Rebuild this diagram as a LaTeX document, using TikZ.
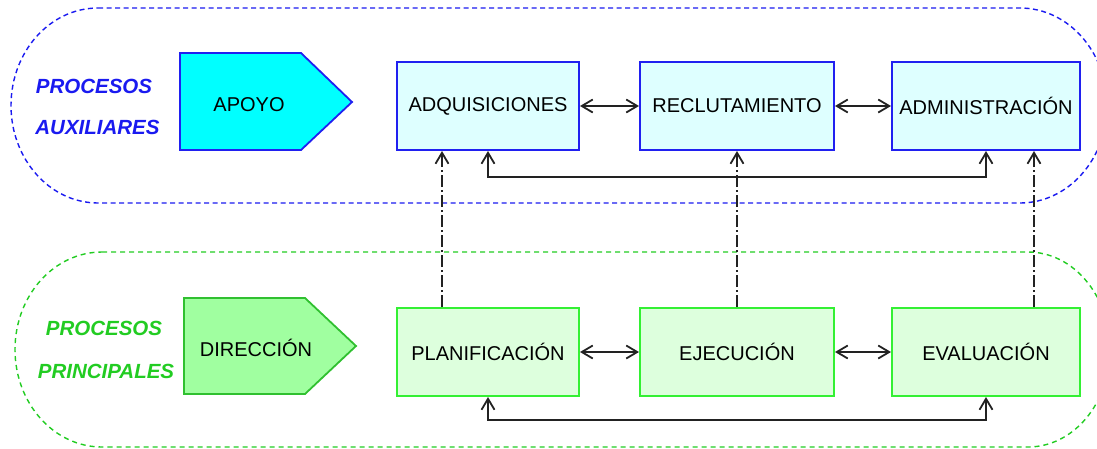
\documentclass[tikz,border=0pt]{standalone}
\usepackage{fontspec}
\setmainfont{Liberation Sans}
\usetikzlibrary{arrows.meta}
\definecolor{cblue}{HTML}{1A1AF0}
\definecolor{cgreen}{HTML}{22CC22}
\definecolor{bfill}{HTML}{DEFFFF}
\definecolor{bline}{HTML}{2020F0}
\definecolor{gfill}{HTML}{DDFFDD}
\definecolor{gline}{HTML}{33F033}
\definecolor{dfill}{HTML}{A0FFA0}
\definecolor{dline}{HTML}{30C030}
\definecolor{apfill}{HTML}{00FFFF}
\definecolor{lk}{HTML}{222222}
\begin{document}
\begin{tikzpicture}[x=1pt,y=-1pt,
  font=\fontsize{20}{24}\selectfont,
  bbox/.style={draw=bline, fill=bfill, line width=2pt, minimum height=88pt, inner sep=0pt},
  gbox/.style={draw=gline, fill=gfill, line width=2pt, minimum height=88pt, inner sep=0pt},
  lbl/.style={font=\fontsize{20.5}{24}\selectfont\bfseries\itshape, inner sep=0pt},
  tip/.tip={Straight Barb[length=11pt,width=13pt]},
  arr/.style={draw=lk, line width=1.8pt, tip-tip},
  fb/.style={draw=lk, line width=1.8pt, tip-tip},
  dd/.style={draw=lk, line width=1.8pt, -tip, dash pattern=on 12pt off 3pt on 2pt off 3pt},
  bcont/.style={draw=cblue, line width=1.4pt, dash pattern=on 5pt off 3.5pt},
  gcont/.style={draw=cgreen, line width=1.4pt, dash pattern=on 5pt off 4pt},
  txt/.style={inner sep=0pt}
]
\useasboundingbox (0,0) rectangle (1097,448);

% containers
\draw[bcont] (98,8) -- (1020,8) arc[start angle=-90, end angle=90, x radius=87, y radius=97.5]
  -- (98,203) arc[start angle=90, end angle=270, x radius=87, y radius=97.5] -- cycle;
\draw[gcont] (102,252) -- (1028,252) arc[start angle=-90, end angle=90, x radius=82, y radius=97.5]
  -- (102,447) arc[start angle=90, end angle=270, x radius=87, y radius=97.5] -- cycle;

% side labels
\node[lbl, text=cblue] (pa1) at (94,86) {PROCESOS};
\node[lbl, text=cblue] (pa2) at (97.5,127) {AUXILIARES};
\node[lbl, text=cgreen] (pp1) at (104,328) {PROCESOS};
\node[lbl, text=cgreen] (pp2) at (106,371) {PRINCIPALES};

% pentagons
\draw[draw=bline, fill=apfill, line width=1.8pt] (180,53) -- (301,53) -- (352,102) -- (301,150) -- (180,150) -- cycle;
\node[txt] (apoyo) at (249,105) {APOYO};
\draw[draw=dline, fill=dfill, line width=1.8pt] (184,298) -- (305,298) -- (356,346) -- (305,394) -- (184,394) -- cycle;
\node[txt] (dir) at (256,348) {DIRECCIÓN};

% top boxes
\node[bbox, minimum width=182pt] (adq) at (488,106) {ADQUISICIONES};
\node[bbox, minimum width=194pt] (rec) at (737,106) {RECLUTAMIENTO};
\node[bbox, minimum width=188pt] (adm) at (986,106) {ADMINISTRACIÓN};

% bottom boxes
\node[gbox, minimum width=182pt] (pla) at (488,352) {PLANIFICACIÓN};
\node[gbox, minimum width=194pt] (eje) at (737,352) {EJECUCIÓN};
\node[gbox, minimum width=188pt] (eva) at (986,352) {EVALUACIÓN};

% horizontal arrows
\draw[arr] (adq.east) -- (rec.west);
\draw[arr] (rec.east) -- (adm.west);
\draw[arr] (pla.east) -- (eje.west);
\draw[arr] (eje.east) -- (eva.west);

% feedback loops
\draw[fb] (adq.south) -- ++(0,26) -| (adm.south);
\draw[fb] (pla.south) -- ++(0,23) -| (eva.south);

% dash-dot links
\draw[dd] ([xshift=46pt]pla.north west) -- ([xshift=46pt]adq.south west);
\draw[dd] (eje.north) -- (rec.south);
\draw[dd] ([xshift=-47pt]eva.north east) -- ([xshift=-47pt]adm.south east);
\end{tikzpicture}
\end{document}
